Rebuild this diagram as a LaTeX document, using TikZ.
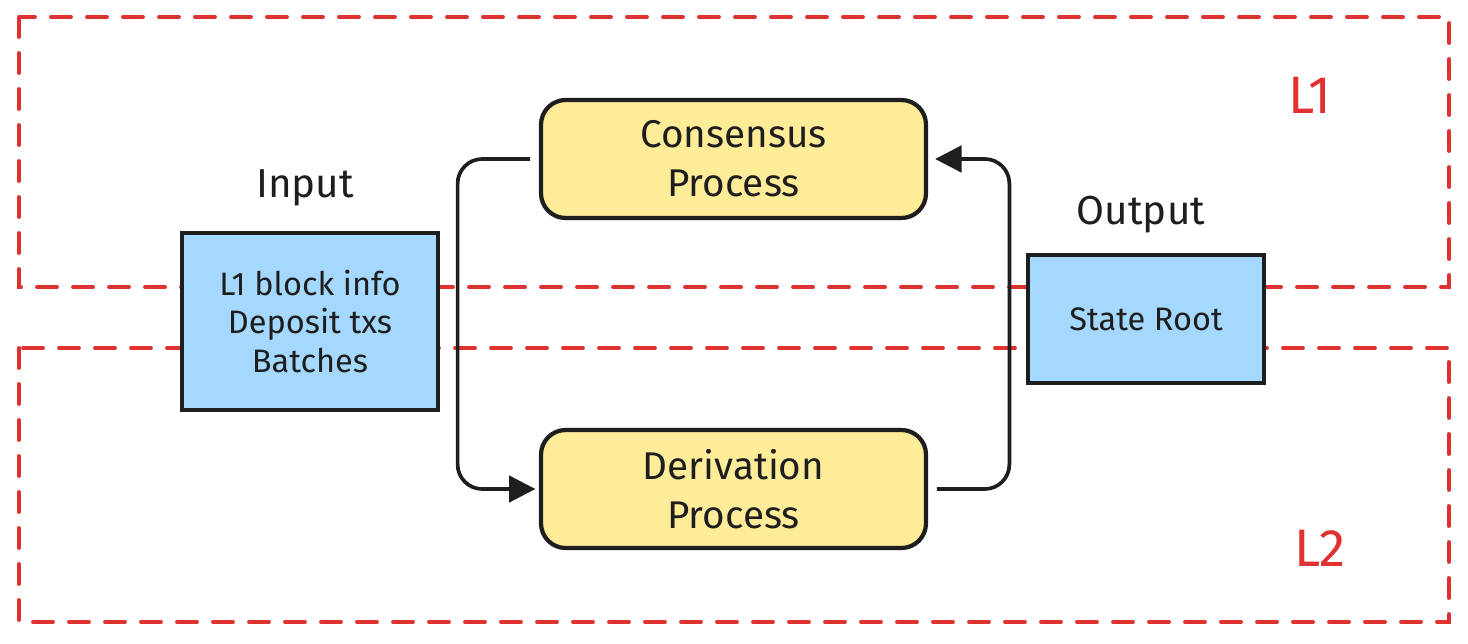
\documentclass[tikz,border=0pt]{standalone}
\usepackage{fontspec}
\setmainfont{Fira Sans}
\definecolor{exred}{RGB}{224,49,49}
\definecolor{exyellow}{RGB}{255,236,153}
\definecolor{exblue}{RGB}{165,216,255}
\definecolor{exink}{RGB}{30,30,30}
\usetikzlibrary{arrows.meta,positioning,calc}

\begin{document}
\begin{tikzpicture}[
  zone/.style={draw=exred, line width=2.2pt, dash pattern=on 0.4cm off 0.32cm, line cap=round},
  procbox/.style={draw=exink, fill=exyellow, line width=2.4pt, rounded corners=14pt, minimum width=7.7cm, minimum height=2.36cm, align=center, font=\fontsize{22}{28}\selectfont, text=exink},
  iobox/.style={draw=exink, fill=exblue, line width=2.4pt, align=center, font=\fontsize{18.5}{22}\selectfont, text=exink},
  conn/.style={draw=exink, line width=2.1pt, rounded corners=14pt, -{Triangle[length=15pt,width=15pt]}},
  tag/.style={font=\fontsize{23}{27}\selectfont, text=exink},
  zonetag/.style={font=\fontsize{30}{34}\selectfont, text=exred}]
  \useasboundingbox[fill=white] (0,0) rectangle (29.36,12.86);

  % Layers
  \draw[zone] (0.38,12.52) rectangle (28.98,7.12);
  \draw[zone] (0.38,5.90) rectangle (28.98,0.42);
  \node[zonetag] (l1) at (26.2,10.95) {L1};
  \node[zonetag] (l2) at (26.4,1.9) {L2};

  % Input
  \node[iobox, minimum width=5.12cm, minimum height=3.54cm] (inp) at (6.2,6.43) {L1 block info\\Deposit txs\\Batches};
  \node[tag] (inplbl) at (6.1,9.1) {Input};

  % Processes
  \node[procbox] (cons) at (14.67,9.68) {Consensus\\Process};
  \node[procbox] (deriv) at (14.67,3.08) {Derivation\\Process};

  % Output
  \node[iobox, minimum width=4.72cm, minimum height=2.56cm] (out) at (22.92,6.48) {State Root};
  \node[tag] (outlbl) at (22.82,8.56) {Output};

  % Loop
  \draw[conn] ([xshift=-5pt]cons.west) -- ++(-1.45,0) |- ([xshift=-2pt]deriv.west);
  \draw[conn] ([xshift=5pt]deriv.east) -- ++(1.45,0) |- ([xshift=4pt]cons.east);
\end{tikzpicture}
\end{document}
